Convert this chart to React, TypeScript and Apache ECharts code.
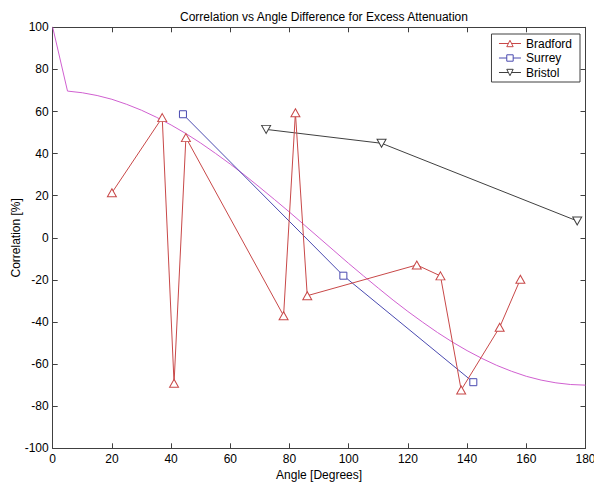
import React, { useEffect, useRef } from "react";
import * as echarts from "echarts";

const xTicks = [0, 20, 40, 60, 80, 100, 120, 140, 160, 180];
const yTicks = [-100, -80, -60, -40, -20, 0, 20, 40, 60, 80, 100];

const bradfordX = [20, 37, 41, 45, 78, 82, 86, 123, 131, 138, 151, 158];
const bradfordY = [21.4, 57.1, -69.1, 47.6, -37, 59.4, -27.5, -12.9, -18.1, -72.3, -42.5, -19.7];

const surreyX = [44, 98.2, 142.1];
const surreyY = [58.7, -18, -68.6];

const bristolX = [72.1, 111.1, 177.2];
const bristolY = [51.5, 44.9, 8];

const fitX = [0, 5, 10, 15, 20, 25, 30, 35, 40, 45, 50, 55, 60, 65, 70, 75, 80, 85, 90, 95, 100, 105, 110, 115, 120, 125, 130, 135, 140, 145, 150, 155, 160, 165, 170, 175, 180];
const fitY = [100, 69.7, 68.9, 67.6, 65.8, 63.4, 60.6, 57.3, 53.6, 49.5, 45.0, 40.1, 35.0, 29.6, 23.9, 18.1, 12.2, 6.1, 0, -6.1, -12.2, -18.1, -23.9, -29.6, -35, -40.1, -45, -49.5, -53.6, -57.3, -60.6, -63.4, -65.8, -67.6, -68.9, -69.7, -70];

const RED = "#c84848";
const BLUE = "#4a4ab0";
const BLACK = "#404040";
const MAGENTA = "#d060d0";
const FONT = "Liberation Sans, Arial, sans-serif";

const pairs = (xs: number[], ys: number[]) => xs.map((x, i) => [x, ys[i]]);

export default function App() {
  const ref = useRef<HTMLDivElement>(null);
  useEffect(() => {
    if (!ref.current) return;
    const chart = echarts.init(ref.current, null, { renderer: "svg" });
    const axisLine = { show: true, onZero: false, lineStyle: { color: BLACK, width: 1 } };
    const axisTick = { show: true, inside: true, length: 5, lineStyle: { color: BLACK } };
    const label = { color: "#000", fontSize: 12, fontFamily: FONT };
    chart.setOption({
      animation: false,
      backgroundColor: "#fff",
      title: {
        text: "Correlation vs Angle Difference for Excess Attenuation",
        left: 319,
        textAlign: "center",
        top: 6,
        textStyle: { fontSize: 12, fontWeight: "normal", color: "#000", fontFamily: FONT },
      },
      grid: { left: 52.7, right: 8.5, top: 27.3, bottom: 35.7, containLabel: false, outerBoundsMode: "none" },
      legend: {
        orient: "vertical",
        right: 14,
        top: 34,
        itemWidth: 22,
        itemHeight: 8,
        itemGap: 1.5,
        padding: [3, 8, 3, 7],
        borderColor: BLACK,
        borderWidth: 1,
        backgroundColor: "#fff",
        lineStyle: { width: 1 },
        itemStyle: { borderWidth: 1 },
        textStyle: { fontSize: 12, color: "#000", fontFamily: FONT, lineHeight: 13 },
        data: ["Bradford", "Surrey", "Bristol"],
      },
      xAxis: [
        {
          type: "value",
          min: 0,
          max: 180,
          interval: 20,
          position: "bottom",
          name: "Angle [Degrees]",
          nameLocation: "middle",
          nameGap: 21,
          nameMoveOverlap: false,
          nameTextStyle: { fontSize: 12, color: "#000", fontFamily: FONT },
          axisLine,
          axisTick,
          axisLabel: { ...label, margin: 5, formatter: (v: number) => (xTicks.includes(v) ? String(v) : "") },
          splitLine: { show: false },
        },
        {
          type: "value",
          min: 0,
          max: 180,
          interval: 20,
          position: "top",
          axisLine,
          axisTick,
          axisLabel: { show: false },
          splitLine: { show: false },
        },
      ],
      yAxis: [
        {
          type: "value",
          min: -100,
          max: 100,
          interval: 20,
          position: "left",
          name: "Correlation [%]",
          nameLocation: "middle",
          nameGap: 31,
          nameMoveOverlap: false,
          nameTextStyle: { fontSize: 12, color: "#000", fontFamily: FONT },
          axisLine,
          axisTick,
          axisLabel: { ...label, margin: 4, formatter: (v: number) => (yTicks.includes(v) ? String(v) : "") },
          splitLine: { show: false },
        },
        {
          type: "value",
          min: -100,
          max: 100,
          interval: 20,
          position: "right",
          axisLine,
          axisTick,
          axisLabel: { show: false },
          splitLine: { show: false },
        },
      ],
      series: [
        {
          name: "Bradford",
          type: "line",
          data: pairs(bradfordX, bradfordY),
          symbol: "triangle",
          symbolSize: [9, 8],
          lineStyle: { color: RED, width: 1 },
          itemStyle: { color: "#fff", borderColor: RED, borderWidth: 1 },
          z: 4,
        },
        {
          name: "Surrey",
          type: "line",
          data: pairs(surreyX, surreyY),
          symbol: "rect",
          symbolSize: 7,
          lineStyle: { color: BLUE, width: 1 },
          itemStyle: { color: "#fff", borderColor: BLUE, borderWidth: 1 },
          z: 3,
        },
        {
          name: "Bristol",
          type: "line",
          data: pairs(bristolX, bristolY),
          symbol: "triangle",
          symbolRotate: 180,
          symbolSize: [9, 8],
          lineStyle: { color: BLACK, width: 1 },
          itemStyle: { color: "#fff", borderColor: BLACK, borderWidth: 1 },
          z: 3,
        },
        {
          name: "Fit",
          type: "line",
          data: pairs(fitX, fitY),
          showSymbol: false,
          symbol: "none",
          lineStyle: { color: MAGENTA, width: 1 },
          z: 2,
        },
      ],
    });
    return () => chart.dispose();
  }, []);
  return <div ref={ref} style={{ position: "fixed", left: 0, top: 0, width: 594, height: 484 }} />;
}
